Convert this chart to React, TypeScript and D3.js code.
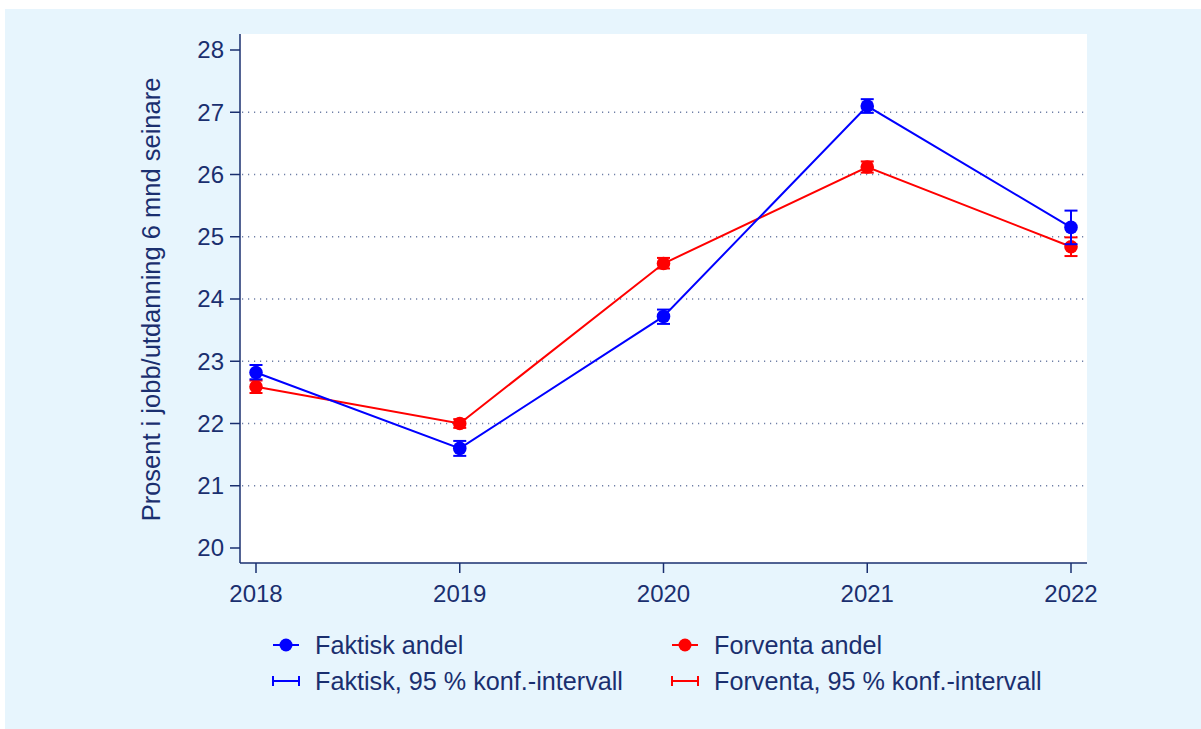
import React from "react";
import * as d3 from "d3";

const years = [2018, 2019, 2020, 2021, 2022];
const faktisk = [22.82, 21.6, 23.72, 27.1, 25.15];
const faktiskLo = [22.71, 21.48, 23.6, 26.99, 24.88];
const faktiskHi = [22.94, 21.72, 23.83, 27.21, 25.42];
const forventa = [22.59, 22.0, 24.57, 26.12, 24.84];
const forventaLo = [22.49, 21.93, 24.49, 26.03, 24.69];
const forventaHi = [22.69, 22.07, 24.66, 26.21, 24.99];
const yTicks = [20, 21, 22, 23, 24, 25, 26, 27, 28];
const gridTicks = [21, 22, 23, 24, 25, 26, 27];
const yLabel = "Prosent i jobb/utdanning 6 mnd seinare";
const legendItems = [
  ["Faktisk andel", "Forventa andel"],
  ["Faktisk, 95 % konf.-intervall", "Forventa, 95 % konf.-intervall"],
];

const NAVY = "#1a2f6f";
const BLUE = "#0000ff";
const RED = "#ff0000";
const FONT = "'Liberation Sans', Arial, Helvetica, sans-serif";

export default function App() {
  const W = 1201;
  const H = 729;
  const plot = { left: 240, right: 1087, top: 34, bottom: 563 };
  const x = d3.scaleLinear().domain([2018, 2022]).range([256, 1071]);
  const y = d3.scaleLinear().domain([20, 28]).range([548, 50]);
  const line = d3
    .line<[number, number]>()
    .x((d) => x(d[0]))
    .y((d) => y(d[1]));
  const cap = 6.5;
  const r = 6.8;

  const series = [
    { vals: forventa, lo: forventaLo, hi: forventaHi, color: RED },
    { vals: faktisk, lo: faktiskLo, hi: faktiskHi, color: BLUE },
  ];

  return (
    <svg
      width={W}
      height={H}
      style={{ position: "absolute", left: 0, top: 0 }}
      fontFamily={FONT}
    >
      <rect x={0} y={0} width={W} height={H} fill="#ffffff" />
      <rect x={5} y={9} width={W - 5} height={H - 9} fill="#e7f5fd" />
      <rect
        x={plot.left}
        y={plot.top}
        width={plot.right - plot.left}
        height={plot.bottom - plot.top}
        fill="#ffffff"
      />
      {/* grid */}
      {gridTicks.map((t) => (
        <line
          key={"g" + t}
          x1={plot.left + 2}
          x2={plot.right}
          y1={y(t)}
          y2={y(t)}
          stroke="#6f7fa6"
          strokeWidth={1.5}
          strokeDasharray="1.2 4.8"
        />
      ))}
      {/* axes */}
      <line x1={plot.left} x2={plot.left} y1={plot.top} y2={plot.bottom} stroke={NAVY} strokeWidth={1.5} />
      <line x1={plot.left} x2={plot.right} y1={plot.bottom} y2={plot.bottom} stroke={NAVY} strokeWidth={1.5} />
      {yTicks.map((t) => (
        <g key={"y" + t}>
          <line x1={plot.left - 10} x2={plot.left} y1={y(t)} y2={y(t)} stroke={NAVY} strokeWidth={1.5} />
          <text
            x={plot.left - 16}
            y={y(t)}
            dy="0.35em"
            textAnchor="end"
            fontSize={24}
            fill={NAVY}
          >
            {t}
          </text>
        </g>
      ))}
      {years.map((t) => (
        <g key={"x" + t}>
          <line x1={x(t)} x2={x(t)} y1={plot.bottom} y2={plot.bottom + 10} stroke={NAVY} strokeWidth={1.5} />
          <text x={x(t)} y={602} textAnchor="middle" fontSize={24} fill={NAVY}>
            {t}
          </text>
        </g>
      ))}
      <text
        transform={`translate(160, 299.5) rotate(-90)`}
        textAnchor="middle"
        fontSize={25.5}
        fill={NAVY}
      >
        {yLabel}
      </text>
      {/* series lines & markers */}
      {series.map((s, si) => (
        <g key={"s" + si}>
          <path
            d={line(years.map((yr, i) => [yr, s.vals[i]]) as [number, number][]) || ""}
            fill="none"
            stroke={s.color}
            strokeWidth={2}
          />
          {years.map((yr, i) => (
            <circle key={i} cx={x(yr)} cy={y(s.vals[i])} r={r} fill={s.color} />
          ))}
        </g>
      ))}
      {/* CI bars */}
      {series.map((s, si) => (
        <g key={"ci" + si} stroke={s.color} strokeWidth={2}>
          {years.map((yr, i) => (
            <g key={i}>
              <line x1={x(yr)} x2={x(yr)} y1={y(s.lo[i])} y2={y(s.hi[i])} />
              <line x1={x(yr) - cap} x2={x(yr) + cap} y1={y(s.lo[i])} y2={y(s.lo[i])} />
              <line x1={x(yr) - cap} x2={x(yr) + cap} y1={y(s.hi[i])} y2={y(s.hi[i])} />
            </g>
          ))}
        </g>
      ))}
      {/* legend */}
      {[BLUE, RED].map((c, ci) => {
        const lx = ci === 0 ? 273 : 672;
        return (
          <g key={"leg" + ci}>
            <line x1={lx} x2={lx + 26} y1={645} y2={645} stroke={c} strokeWidth={2} />
            <circle cx={lx + 13} cy={645} r={6.5} fill={c} />
            <text x={lx + 42} y={645} dy="0.35em" fontSize={25.2} fill={NAVY}>
              {legendItems[0][ci]}
            </text>
            <line x1={lx} x2={lx + 26} y1={681} y2={681} stroke={c} strokeWidth={2} />
            <line x1={lx} x2={lx} y1={676} y2={686} stroke={c} strokeWidth={2} />
            <line x1={lx + 26} x2={lx + 26} y1={676} y2={686} stroke={c} strokeWidth={2} />
            <text x={lx + 42} y={681} dy="0.35em" fontSize={25.2} fill={NAVY}>
              {legendItems[1][ci]}
            </text>
          </g>
        );
      })}
    </svg>
  );
}
